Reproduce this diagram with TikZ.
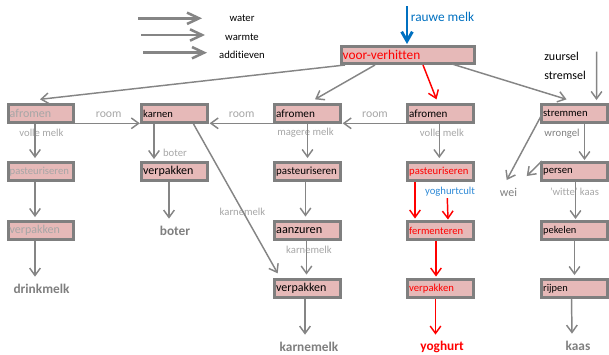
\documentclass[tikz,border=0pt]{standalone}
\usepackage{fontspec}
\setmainfont{Carlito}[Ligatures=NoCommon]
\usetikzlibrary{arrows.meta,calc,positioning}
\definecolor{roze}{HTML}{E6B9B8}
\definecolor{rand}{HTML}{7F7F7F}
\definecolor{lijn}{HTML}{858585}
\definecolor{licht}{HTML}{A6A6A6}
\definecolor{blauw}{HTML}{0070C0}
\definecolor{lblauw}{HTML}{2F8AD6}
\definecolor{rood}{HTML}{FF0000}
\newcommand{\boxfont}{\fontsize{8.3}{10}\selectfont}
\newcommand{\grootfont}{\fontsize{9}{10}\selectfont}
\newcommand{\labfont}{\fontsize{8}{9}\selectfont}
\tikzset{
  stap/.style={draw=rand, line width=2.2pt, fill=roze, minimum width=49pt,
    minimum height=13.5pt, text width=47pt, align=left, inner sep=1pt,
    font=\boxfont, text=black},
  grijsstap/.style={stap, text=licht},
  roodstap/.style={stap, text=rood},
  pijl/.style={draw=lijn, line width=1.1pt, -{Straight Barb[length=5.5pt,width=8pt]}},
  roodpijl/.style={pijl, draw=rood},
  legpijl/.style={draw=lijn, line width=1.9pt, -{Straight Barb[length=9pt,width=8.5pt]}},
  etiket/.style={text=licht, font=\labfont, inner sep=1pt},
  eind/.style={text=rand, font=\fontsize{10}{12}\selectfont\bfseries, inner sep=1pt},
}
\begin{document}
\begin{tikzpicture}[x=0.75pt,y=-0.75pt]
\useasboundingbox (0,0) rectangle (609,354);
% legenda
\coordinate (w1) at (138,18.3);
\coordinate (w2) at (202,18.3);
\coordinate (h1) at (141,35);
\coordinate (h2) at (205,35);
\coordinate (a1) at (143,52.7);
\coordinate (a2) at (207,52.7);
\node[font=\labfont, inner sep=0pt] (lw) at (242,18) {water};
\node[font=\labfont, inner sep=0pt] (lh) at (242,37) {warmte};
\node[font=\labfont, inner sep=0pt] (la) at (242,55) {additieven};
\draw[legpijl] (w1) -- (w2);
\draw[legpijl] (h1) -- (h2);
\draw[legpijl] (a1) -- (a2);
% invoer
\coordinate (rm) at (407,6);
\node[text=blauw, font=\fontsize{10}{12}\selectfont, inner sep=0pt] (rauw) at (442.5,17) {rauwe melk};
\node[font=\grootfont, anchor=west, inner sep=0pt] (zs) at (544,56) {zuursel};
\node[font=\grootfont, anchor=west, inner sep=0pt] (st) at (544,75) {stremsel};
\coordinate (zst) at (596.7,51.7);
% stappen
\node[stap, minimum width=100pt, minimum height=12.8pt, text width=98pt,
  text=rood, font=\fontsize{10}{12}\selectfont] (vv) at (408,55) {voor-verhitten};
\node[grijsstap, font=\grootfont] (afr1) at (41,113.5) {afromen};
\node[stap, font=\fontsize{7.9}{9}\selectfont] (karn) at (174.5,113.5) {karnen};
\node[stap, font=\fontsize{8.4}{10}\selectfont] (afr2) at (307.5,113.5) {afromen};
\node[stap] (afr3) at (440.5,113.5) {afromen};
\node[stap, font=\fontsize{8}{10}\selectfont] (strem) at (574.5,113.5) {stremmen};
\node[grijsstap, font=\fontsize{8}{10}\selectfont] (past1) at (41,171.5) {pasteuriseren};
\node[stap, font=\grootfont] (verpb) at (174.5,171.5) {verpakken};
\node[stap, font=\fontsize{8.2}{10}\selectfont] (past2) at (307.5,171.5) {pasteuriseren};
\node[roodstap, font=\fontsize{8}{10}\selectfont] (past3) at (440.5,171.5) {pasteuriseren};
\node[stap, font=\fontsize{8}{10}\selectfont] (pers) at (574.5,171.5) {persen};
\node[grijsstap, font=\grootfont] (verp1) at (41,230.5) {verpakken};
\node[stap, font=\fontsize{9.2}{10}\selectfont] (aanz) at (307.5,230.5) {aanzuren};
\node[roodstap, font=\fontsize{7.9}{10}\selectfont] (ferm) at (440.5,230.5) {fermenteren};
\node[stap, font=\fontsize{7.8}{10}\selectfont] (pek) at (574.5,230.5) {pekelen};
\node[stap, font=\grootfont] (verp2) at (307.5,288.5) {verpakken};
\node[roodstap, font=\fontsize{8}{10}\selectfont] (verp3) at (440.5,288.5) {verpakken};
\node[stap, font=\fontsize{7.8}{10}\selectfont] (rijp) at (574.5,288.5) {rijpen};
% eindproducten
\node[eind] (drink) at (41.5,289) {drinkmelk};
\node[eind] (boter) at (175,231) {boter};
\node[eind] (karnm) at (309,347) {karnemelk};
\node[eind, text=rood] (yog) at (442,347) {yoghurt};
\node[eind] (kaas) at (578,346) {kaas};
\node[text=rand, font=\grootfont, inner sep=1pt] (wei) at (508.5,192.7) {wei};
% etiketten
\node[etiket, font=\fontsize{8.8}{10}\selectfont] (room1) at (108.7,114.5) {room};
\node[etiket, font=\fontsize{8.8}{10}\selectfont] (room2) at (241.7,114.5) {room};
\node[etiket, font=\fontsize{8.8}{10}\selectfont] (room3) at (375,114.5) {room};
\node[etiket] (vm1) at (41.5,133) {volle melk};
\node[etiket] (mm) at (305.5,133) {magere melk};
\node[etiket] (vm3) at (442,133) {volle melk};
\node[etiket] (bo) at (175,153) {boter};
\node[etiket] (km1) at (242.5,211.7) {karnemelk};
\node[etiket] (km2) at (309,250) {karnemelk};
\node[etiket, text=rand] (wr) at (562,134) {wrongel};
\node[etiket] (wk) at (574.5,191.7) {'witte' kaas};
\node[etiket, text=lblauw] (yc) at (450,192) {yoghurtcult};
% pijlen
\draw[blauw, line width=2.2pt, -{Straight Barb[length=7pt,width=8pt]}] (rm) -- ($(vv.north)+(-1,-1)$);
\draw[pijl] (zst) -- ($(strem.north)+(22,-3)$);
\draw[pijl] ($(vv.south)+(-63,0)$) -- ($(afr1.north)+(-1,-3.7)$);
\draw[pijl] ($(vv.south)+(-33,0)$) -- ($(afr2.north)+(7.5,-3.7)$);
\draw[roodpijl] ($(vv.south)+(15,0)$) -- ($(afr3.north)+(-4,-3.7)$);
\draw[pijl] ($(vv.south)+(44,-1)$) -- ($(strem.north)+(-8,-3.7)$);
% room
\draw[pijl] ($(afr1.east)+(0,9.8)$) -- ($(karn.west)+(-0.5,9.8)$);
\draw[pijl] ($(afr2.west)+(0,9.8)$) -- ($(karn.east)+(1,9.8)$);
\draw[pijl] ($(afr3.west)+(0,9.8)$) -- ($(afr2.east)+(1,9.8)$);
% drinkmelk
\draw[pijl] ($(afr1.south)+(-6,0)$) -- ($(past1.north)+(-6,-3)$);
\draw[pijl] ($(past1.south)+(-6,0)$) -- ($(verp1.north)+(-6,-3)$);
\draw[pijl] ($(verp1.south)+(-6,0)$) -- ($(drink.north)+(-6.5,-6)$);
% boter en karnemelk
\draw[pijl] ($(karn.south)+(-20.5,0)$) -- ($(verpb.north)+(-20.5,-2)$);
\draw[pijl] ($(verpb.south)+(-5.5,0)$) -- ($(boter.north)+(-6,-6)$);
\draw[pijl] ($(karn.south)+(19,0)$) -- ($(verp2.north west)+(4.3,-4.7)$);
\draw[pijl] (afr2.south) -- ($(past2.north)+(0,-3)$);
\draw[pijl] ($(past2.south)+(-2,0)$) -- ($(aanz.north)+(-2,-3.5)$);
\draw[pijl] ($(aanz.south)+(-1,0)$) -- ($(verp2.north)+(-1,-3.5)$);
\draw[pijl] ($(verp2.south)+(-2.5,0)$) -- ($(karnm.north)+(-4,-6)$);
% yoghurt
\draw[pijl] ($(afr3.south)+(-1.2,0)$) -- ($(past3.north)+(-1.2,-3)$);
\draw[roodpijl] ($(past3.south)+(-25.5,0)$) -- ($(ferm.north)+(-25.5,-1.5)$);
\draw[roodpijl] ($(yc.south)+(-2.7,0)$) -- ($(ferm.north)+(7.5,-0.5)$);
\draw[roodpijl] ($(ferm.south)+(-4.5,0)$) -- ($(verp3.north)+(-4.5,-1.5)$);
\draw[roodpijl] ($(verp3.south)+(-5,0)$) -- ($(yog.north)+(-6.5,-5)$);
% kaas
\draw[pijl] ($(strem.south)+(10,0)$) -- ($(pers.north)+(10,-1)$);
\draw[pijl] ($(strem.west)+(1.5,1)$) -- ($(wei.center)+(-1.8,-12.7)$);
\draw[pijl] ($(pers.north west)+(1.5,0)$) -- ($(wei.center)+(18.2,-16.7)$);
\draw[pijl] ($(pers.south)+(1,0)$) -- ($(pek.north)+(1,-1)$);
\draw[pijl] (pek.south) -- ($(rijp.north)+(0,-3)$);
\draw[pijl] ($(rijp.south)+(-3,0)$) -- ($(kaas.north)+(-6,-6)$);
\end{tikzpicture}
\end{document}
